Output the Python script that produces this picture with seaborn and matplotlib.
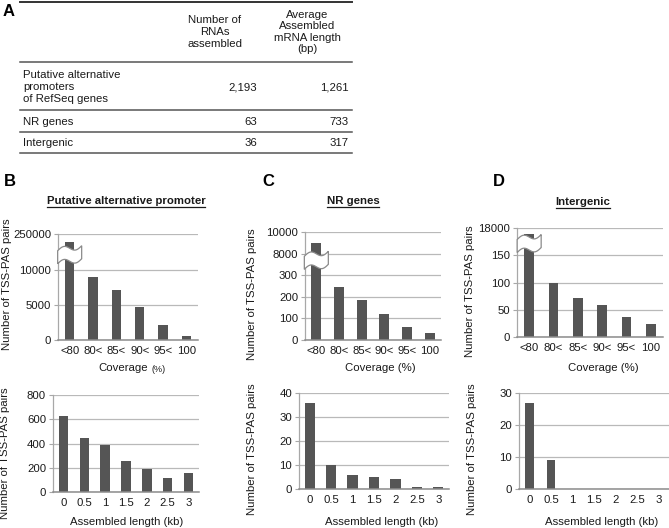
import numpy as np
import pandas as pd
import matplotlib
matplotlib.use("Agg")
import matplotlib.pyplot as plt
import seaborn as sns
from matplotlib.patches import Polygon
from matplotlib.lines import Line2D
from matplotlib.transforms import ScaledTranslation

# ---------------- data ----------------
table_cols = ["Number of\nRNAs\nassembled", "Average\nAssembled\nmRNA length\n(bp)"]
table_rows = ["Putative alternative\npromoters\nof RefSeq genes", "NR genes", "Intergenic"]
table_n_rnas = ["2,193", "63", "36"]
table_avg_len = ["1,261", "733", "317"]

coverage_labels = ["<80", "80<", "85<", "90<", "95<", "100"]
length_labels = ["0", "0.5", "1", "1.5", "2", "2.5", "3"]

# coverage (broken axes)
cov_promoter = [200000, 8900, 7100, 4650, 2150, 600]
cov_promoter_ticks = [0, 5000, 10000, 250000]
cov_nr = [9000, 244, 188, 123, 62, 34]
cov_nr_ticks = [0, 100, 200, 300, 8000, 10000]
cov_inter = [14000, 100, 72, 58, 36, 24]
cov_inter_ticks = [0, 50, 100, 150, 18000]

# assembled length
len_promoter = [630, 445, 390, 260, 187, 113, 155]
len_promoter_ticks = [0, 200, 400, 600, 800]
len_nr = [36, 10, 6, 5, 4, 1, 1]
len_nr_ticks = [0, 10, 20, 30, 40]
len_inter = [27, 9, 0, 0, 0, 0, 0]
len_inter_ticks = [0, 10, 20, 30]

titles = ["Putative alternative promoter", "NR genes", "Intergenic"]

# ---------------- style ----------------
W, H = 669, 528
plt.rcParams["font.family"] = ["Liberation Sans", "DejaVu Sans"]
FS = 8.2
BAR = "#555555"
GRID = "#b9b9b9"
TXT = "#1a1a1a"

fig = plt.figure(figsize=(W / 100, H / 100), dpi=100)


def fx(x):
    return x / W


def fy(y):
    return 1 - y / H


def add_ax(l, t, r, b):
    return fig.add_axes([l / W, 1 - b / H, (r - l) / W, (b - t) / H])


def style_ax(ax, ticks, tick_pos):
    ax.set_ylim(0, tick_pos[-1] * 1.003)
    ax.set_yticks(tick_pos)
    ax.set_yticklabels([str(t) for t in ticks], fontsize=FS, color=TXT)
    ax.grid(axis="y", color=GRID, lw=0.9)
    ax.set_axisbelow(True)
    for s in ["top", "right"]:
        ax.spines[s].set_visible(False)
    ax.spines["left"].set_color("#a8a8a8")
    ax.spines["left"].set_linewidth(0.9)
    ax.spines["bottom"].set_color("#8c8c8c")
    ax.spines["bottom"].set_linewidth(1.1)
    ax.tick_params(axis="y", length=3, color="#a8a8a8", pad=2)
    ax.tick_params(axis="x", length=0, pad=4, labelsize=FS, labelcolor=TXT)
    ax.set_xlabel("")
    ax.set_ylabel("")
    ax.set_facecolor("none")


def bars(ax, cats, vals, ticks, width=0.42):
    pos = np.interp(vals, ticks, np.arange(len(ticks)))
    df = pd.DataFrame({"cat": cats, "h": pos})
    sns.barplot(data=df, x="cat", y="h", order=cats, color=BAR, saturation=1,
                width=width, edgecolor="none", ax=ax)
    style_ax(ax, ticks, np.arange(len(ticks)))


def break_mark(ax, xc, yc):
    t = np.linspace(0, 1, 60)
    xs = (-12 + 24 * t) / 100
    wave = 3.0 * np.sin(2 * np.pi * t) + 5 * (t - 0.5)
    top = (6.5 + wave) / 100
    bot = (-6.5 + wave) / 100
    pts = np.concatenate([np.column_stack([xs, top]), np.column_stack([xs[::-1], bot[::-1]])])
    tr = fig.dpi_scale_trans + ScaledTranslation(xc, yc, ax.transData)
    ax.add_patch(Polygon(pts, closed=True, facecolor="white", edgecolor="#8a8a8a",
                         lw=0.9, transform=tr, zorder=5, clip_on=False))


# ---------------- panel A: table ----------------
fig.text(fx(9), fy(12), "A", fontsize=12, fontweight="bold", ha="center", va="center")
for y, lw, c in [(1.5, 1.4, "#333333"), (62, 1.1, "#555555"), (110, 1.1, "#555555"),
                 (132, 1.1, "#555555"), (153, 1.1, "#555555")]:
    fig.add_artist(Line2D([fx(20), fx(352)], [fy(y), fy(y)], lw=lw, color=c))
fig.text(fx(215), fy(32), table_cols[0], fontsize=FS, ha="center", va="center",
         linespacing=1.2, color=TXT)
fig.text(fx(307), fy(32), table_cols[1], fontsize=FS, ha="center", va="center",
         linespacing=1.2, color=TXT)
row_y = [87, 122, 143]
for name, n, l, y in zip(table_rows, table_n_rnas, table_avg_len, row_y):
    fig.text(fx(23), fy(y), name, fontsize=FS, ha="left", va="center", linespacing=1.2, color=TXT)
    fig.text(fx(257), fy(y), n, fontsize=FS, ha="right", va="center", color=TXT)
    fig.text(fx(349), fy(y), l, fontsize=FS, ha="right", va="center", color=TXT)

# ---------------- panel letters & titles ----------------
for lx, lt in [(10, "B"), (268, "C"), (499, "D")]:
    fig.text(fx(lx), fy(182), lt, fontsize=12, fontweight="bold", ha="center", va="center")
title_texts = []
for cx, cy, tt in [(126, 201, titles[0]), (353, 201, titles[1]), (583, 202, titles[2])]:
    title_texts.append(fig.text(fx(cx), fy(cy), tt, fontsize=FS, fontweight="bold",
                                ha="center", va="center", color=TXT))

# ---------------- coverage charts ----------------
axB1 = add_ax(58, 234, 198, 340)
bars(axB1, coverage_labels, cov_promoter, cov_promoter_ticks, 0.40)
break_mark(axB1, 0, 2.42)

axC1 = add_ax(305, 232, 441, 340)
bars(axC1, coverage_labels, cov_nr, cov_nr_ticks, 0.44)
break_mark(axC1, 0, 3.7)

axD1 = add_ax(517, 228, 663, 337)
bars(axD1, coverage_labels, cov_inter, cov_inter_ticks, 0.41)
break_mark(axD1, 0, 3.44)

# ---------------- length charts ----------------
axB2 = add_ax(53, 395, 199, 492)
bars(axB2, length_labels, len_promoter, len_promoter_ticks, 0.45)
axC2 = add_ax(299, 393, 449, 489)
bars(axC2, length_labels, len_nr, len_nr_ticks, 0.48)
axD2 = add_ax(519, 393, 669, 489)
bars(axD2, length_labels, len_inter, len_inter_ticks, 0.40)

# ---------------- axis labels ----------------
fig.text(fx(148), fy(368), "Coverage", fontsize=FS, ha="right", va="center", color=TXT)
fig.text(fx(151), fy(369), "(%)", fontsize=6.5, ha="left", va="center", color=TXT)
fig.text(fx(380), fy(368), "Coverage (%)", fontsize=FS, ha="center", va="center", color=TXT)
fig.text(fx(603), fy(368), "Coverage (%)", fontsize=FS, ha="center", va="center", color=TXT)
for cx in [127, 382, 602]:
    fig.text(fx(cx), fy(522), "Assembled length (kb)", fontsize=FS, ha="center", va="center", color=TXT)
for x, y in [(7, 284), (5, 453), (252, 294), (252, 449), (470, 291), (472, 449)]:
    fig.text(fx(x), fy(y), "Number of TSS-PAS pairs", fontsize=FS, rotation=90,
             ha="center", va="center", color=TXT)

# underline titles
fig.canvas.draw()
r = fig.canvas.get_renderer()
for t in title_texts:
    bb = t.get_window_extent(renderer=r)
    x0, x1 = bb.x0 / (W), bb.x1 / (W)
    yl = (bb.y0 - 1) / H
    fig.add_artist(Line2D([x0, x1], [yl, yl], lw=0.9, color=TXT))

fig.savefig("out.png", dpi=100)
